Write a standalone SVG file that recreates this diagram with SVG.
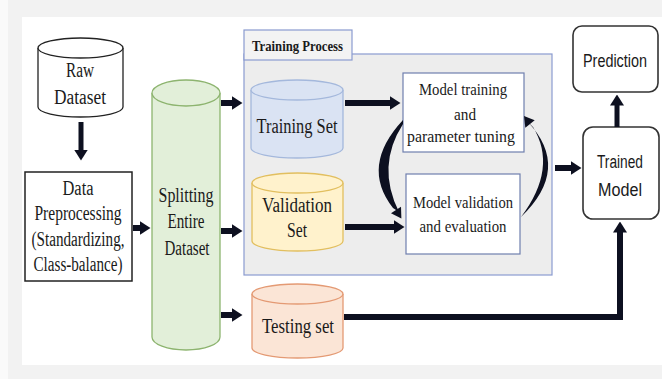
<svg xmlns="http://www.w3.org/2000/svg" width="662" height="379" viewBox="0 0 662 379">
  <defs>
    <style>
      .serif { font-family: "Liberation Serif", "DejaVu Serif", serif; font-size: 20px; fill: #1a1a1a; text-anchor: middle; }
      .sm { font-size: 17px; }
      .sans { font-family: "Liberation Sans", Arial, sans-serif; font-size: 18px; fill: #1a1a1a; text-anchor: middle; }
      .bold { font-weight: bold; font-size: 15px; text-anchor: start; }
      .cyl { stroke-width: 1.3; }
      .box { fill: #ffffff; stroke: #222222; stroke-width: 1.5; }
      .mbox { fill: #ffffff; stroke: #6f7fae; stroke-width: 1.2; }
      .rbox { fill: #ffffff; stroke: #333333; stroke-width: 1.6; }
      .arrow { fill: none; stroke: #0d1020; stroke-width: 6; marker-end: url(#head); }
      .thin { stroke-width: 5; }
      .curve { fill: #0d1020; }
    </style>
    <marker id="head" viewBox="0 0 11 14" refX="0.5" refY="7" markerWidth="11" markerHeight="14" markerUnits="userSpaceOnUse" orient="auto">
      <path d="M0,0 L11,7 L0,14 Z" fill="#0d1020"/>
    </marker>
  </defs>

  <!-- backdrop -->
  <rect x="0" y="0" width="662" height="379" fill="#fafafa"/>
  <rect x="8" y="0" width="654" height="379" fill="#f2f2f2"/>
  <rect x="22" y="17" width="640" height="348" fill="#ffffff"/>

  <!-- training process container -->
  <g id="training-process">
    <rect x="244" y="54" width="308" height="221" fill="#ededed" stroke="#8a9bd0" stroke-width="1.2"/>
    <rect x="244" y="30" width="108" height="30" fill="#f3f3f3" stroke="#8a9bd0" stroke-width="1.2"/>
    <text class="serif bold" x="252" y="51" textLength="91" lengthAdjust="spacingAndGlyphs">Training Process</text>
  </g>

  <g id="raw-dataset">
    <path class="cyl" d="M38,48 V107 A42.5,10 0 0 0 123,107 V48" fill="#ffffff" stroke="#222222"/>
    <ellipse class="cyl" cx="80.5" cy="48" rx="42.5" ry="10" fill="#ffffff" stroke="#222222"/>
    <text class="serif" x="80" y="77" textLength="28" lengthAdjust="spacingAndGlyphs">Raw</text>
    <text class="serif" x="80" y="104" textLength="52" lengthAdjust="spacingAndGlyphs">Dataset</text>
  </g>

  <g id="data-preprocessing">
    <rect class="box" x="25" y="172" width="107" height="109"/>
    <text class="serif" x="78" y="195" textLength="31" lengthAdjust="spacingAndGlyphs">Data</text>
    <text class="serif" x="78" y="220" textLength="87" lengthAdjust="spacingAndGlyphs">Preprocessing</text>
    <text class="serif" x="78" y="246" textLength="93" lengthAdjust="spacingAndGlyphs">(Standardizing,</text>
    <text class="serif" x="78" y="271" textLength="89" lengthAdjust="spacingAndGlyphs">Class-balance)</text>
  </g>

  <g id="splitting">
    <path class="cyl" d="M152,93 V337 A34,13 0 0 0 220,337 V93" fill="#e2efd9" stroke="#8db46f"/>
    <ellipse class="cyl" cx="186" cy="93" rx="34" ry="13" fill="#e2efd9" stroke="#8db46f"/>
    <text class="serif" x="186" y="202" textLength="55" lengthAdjust="spacingAndGlyphs">Splitting</text>
    <text class="serif" x="186" y="228" textLength="37" lengthAdjust="spacingAndGlyphs">Entire</text>
    <text class="serif" x="187" y="255" textLength="45" lengthAdjust="spacingAndGlyphs">Dataset</text>
  </g>

  <g id="training-set">
    <path class="cyl" d="M251,90 V148 A46,10 0 0 0 343,148 V90" fill="#dae3f3" stroke="#a4b8dc"/>
    <ellipse class="cyl" cx="297" cy="90" rx="46" ry="10" fill="#dae3f3" stroke="#a4b8dc"/>
    <text class="serif" x="297" y="133" textLength="81" lengthAdjust="spacingAndGlyphs">Training Set</text>
  </g>

  <g id="validation-set">
    <path class="cyl" d="M252,183 V241 A45.5,10 0 0 0 343,241 V183" fill="#fff2cc" stroke="#e2bf5f"/>
    <ellipse class="cyl" cx="297.5" cy="183" rx="45.5" ry="10" fill="#fff2cc" stroke="#e2bf5f"/>
    <text class="serif" x="297" y="212" textLength="70" lengthAdjust="spacingAndGlyphs">Validation</text>
    <text class="serif" x="297" y="237" textLength="20" lengthAdjust="spacingAndGlyphs">Set</text>
  </g>

  <g id="testing-set">
    <path class="cyl" d="M252,294 V348 A45.5,10 0 0 0 343,348 V294" fill="#fbe5d6" stroke="#e49a74"/>
    <ellipse class="cyl" cx="297.5" cy="294" rx="45.5" ry="10" fill="#fbe5d6" stroke="#e49a74"/>
    <text class="serif" x="298" y="333" textLength="72" lengthAdjust="spacingAndGlyphs">Testing set</text>
  </g>

  <g id="model-training">
    <rect class="mbox" x="403" y="73" width="121" height="79"/>
    <text class="serif sm" x="463" y="95" textLength="88" lengthAdjust="spacingAndGlyphs">Model training</text>
    <text class="serif sm" x="465" y="120" textLength="22" lengthAdjust="spacingAndGlyphs">and</text>
    <text class="serif sm" x="461" y="142" textLength="108" lengthAdjust="spacingAndGlyphs">parameter tuning</text>
  </g>

  <g id="model-validation">
    <rect class="mbox" x="406" y="174" width="114" height="80"/>
    <text class="serif sm" x="463" y="208" textLength="100" lengthAdjust="spacingAndGlyphs">Model validation</text>
    <text class="serif sm" x="463" y="232" textLength="87" lengthAdjust="spacingAndGlyphs">and evaluation</text>
  </g>

  <g id="prediction">
    <rect class="rbox" x="573" y="26" width="85" height="66" rx="9"/>
    <text class="sans" x="615" y="67" textLength="64" lengthAdjust="spacingAndGlyphs">Prediction</text>
  </g>

  <g id="trained-model">
    <rect class="rbox" x="583" y="127" width="76" height="92" rx="10"/>
    <text class="sans" x="620" y="168" textLength="46" lengthAdjust="spacingAndGlyphs">Trained</text>
    <text class="sans" x="620" y="196" textLength="44" lengthAdjust="spacingAndGlyphs">Model</text>
  </g>

  <!-- connectors -->
  <g id="connectors">
    <path class="arrow thin" d="M81,122 V150"/>
    <path class="arrow" d="M133,228 H140"/>
    <path class="arrow" d="M221,103 H232"/>
    <path class="arrow" d="M221,231 H232"/>
    <path class="arrow" d="M221,315 H232"/>
    <path class="arrow" d="M345,103 H390"/>
    <path class="arrow" d="M345,227 H394"/>
    <path class="arrow" d="M555,168 H571"/>
    <path class="arrow thin" d="M617,127 V105"/>
    <path class="arrow" d="M344,317 H620 V232" stroke-linejoin="miter"/>

    <!-- training <-> validation loop -->
    <path class="curve" d="M403,120 Q360,166 393,208 L399,212 Q376,166 403,124 Z"/>
    <path class="curve" d="M401.4,218.4 L391,213.2 L401,206.8 Z"/>
    <path class="curve" d="M521,217 Q572,168 527,121 L533,127 Q558,168 521,217 Z"/>
    <path class="curve" d="M524,116 L534.7,120.3 L525.3,127.7 Z"/>
  </g>
</svg>
